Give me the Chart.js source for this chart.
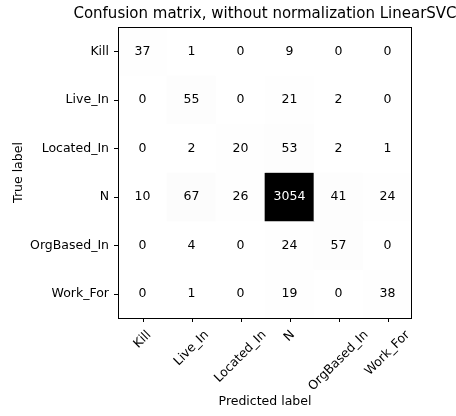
<!doctype html>
<html lang="en">
<head>
<meta charset="utf-8">
<title>Confusion matrix, without normalization LinearSVC</title>
<script src="https://cdn.jsdelivr.net/npm/chart.js@4.4.1/dist/chart.umd.min.js"></script>
<style>
    html, body { margin: 0; padding: 0; background: #fff; }
</style>
</head>
<body>
<canvas id="cm" width="456" height="416"></canvas>
<script>
    // class names (rows = true label, columns = predicted label)
    const classNames = ['Kill', 'Live_In', 'Located_In', 'N', 'OrgBased_In', 'Work_For'];

    // counts per true label
    const killRow       = [37, 1, 0, 9, 0, 0];
    const liveInRow     = [0, 55, 0, 21, 2, 0];
    const locatedInRow  = [0, 2, 20, 53, 2, 1];
    const nRow          = [10, 67, 26, 3054, 41, 24];
    const orgBasedInRow = [0, 4, 0, 24, 57, 0];
    const workForRow    = [0, 1, 0, 19, 0, 38];

    const matrix = [killRow, liveInRow, locatedInRow, nRow, orgBasedInRow, workForRow];
    const maxCount = Math.max(...matrix.flat());

    const FONT = '"DejaVu Sans", sans-serif';
    const LABEL_SIZE = 12.5;

    // matplotlib "Greys" colormap
    const greyStops = [255, 240, 217, 189, 150, 115, 82, 37, 0];
    function greys(t) {
        const p = Math.min(Math.max(t, 0), 1) * (greyStops.length - 1);
        const i = Math.min(Math.floor(p), greyStops.length - 2);
        const g = Math.round(greyStops[i] + (greyStops[i + 1] - greyStops[i]) * (p - i));
        return `rgb(${g}, ${g}, ${g})`;
    }

    // each true-label row is one dataset of floating bars spanning [r-0.5, r+0.5]
    const datasets = matrix.map((row, r) => ({
        label: classNames[r],
        data: row.map(() => [r - 0.5, r + 0.5]),
        backgroundColor: row.map(v => greys(v / maxCount)),
        borderWidth: 0,
        barPercentage: 1,
        categoryPercentage: 1,
        grouped: false,
    }));

    const matrixPlugin = {
        id: 'matrixPlugin',
        afterDatasetsDraw(chart) {
            const ctx = chart.ctx;
            ctx.save();
            ctx.font = LABEL_SIZE + 'px ' + FONT;
            ctx.textAlign = 'center';
            ctx.textBaseline = 'middle';
            matrix.forEach((row, r) => {
                chart.getDatasetMeta(r).data.forEach((bar, c) => {
                    const v = row[c];
                    ctx.fillStyle = v > maxCount / 2 ? '#fff' : '#000';
                    ctx.fillText(String(v), bar.x, (bar.y + bar.base) / 2);
                });
            });
            ctx.restore();
        },
        afterDraw(chart) {
            const ctx = chart.ctx;
            const area = chart.chartArea;
            const xScale = chart.scales.x;
            const yScale = chart.scales.y;
            ctx.save();

            // axes frame
            const L = Math.round(area.left), T = Math.round(area.top);
            const R = Math.round(area.right), B = Math.round(area.bottom);
            ctx.strokeStyle = '#000';
            ctx.lineWidth = 1;
            ctx.strokeRect(L + 0.5, T + 0.5, R - L - 1, B - T);

            // tick marks (outward, on left and bottom)
            ctx.beginPath();
            classNames.forEach((_, i) => {
                const x = Math.round(xScale.getPixelForValue(i)) + 0.5;
                ctx.moveTo(x, B);
                ctx.lineTo(x, B + 4);
                const y = Math.round(yScale.getPixelForValue(i)) + 0.5;
                ctx.moveTo(L + 0.5, y);
                ctx.lineTo(L - 4, y);
            });
            ctx.stroke();

            // title
            ctx.fillStyle = '#000';
            ctx.font = '15px ' + FONT;
            ctx.textAlign = 'center';
            ctx.textBaseline = 'alphabetic';
            ctx.fillText('Confusion matrix, without normalization LinearSVC', (area.left + area.right) / 2, 18);

            // x tick labels, rotated 45deg and centred on the tick (matplotlib style)
            ctx.font = LABEL_SIZE + 'px ' + FONT;
            ctx.textBaseline = 'middle';
            const top = area.bottom + 10;
            const h = 14;
            classNames.forEach((name, i) => {
                const w = ctx.measureText(name).width;
                const cx = xScale.getPixelForValue(i);
                const cy = top + (w + h) * Math.SQRT1_2 / 2;
                ctx.save();
                ctx.translate(cx, cy);
                ctx.rotate(-Math.PI / 4);
                ctx.fillText(name, 0, 0);
                ctx.restore();
            });
            ctx.restore();
        }
    };

    new Chart(document.getElementById('cm'), {
        type: 'bar',
        data: { labels: classNames, datasets },
        options: {
            responsive: false,
            devicePixelRatio: 1,
            animation: false,
            layout: { padding: { top: 27, right: 44, bottom: 0, left: 0 } },
            plugins: {
                legend: { display: false },
                tooltip: { enabled: false },
            },
            scales: {
                x: {
                    type: 'category',
                    offset: true,
                    grid: { display: false },
                    border: { display: false },
                    ticks: { display: false },
                    title: {
                        display: true, text: 'Predicted label', color: '#000',
                        font: { family: FONT, size: LABEL_SIZE }, padding: { top: 0, bottom: 7 }
                    },
                    afterFit(scale) { scale.height = 98; },
                },
                y: {
                    type: 'linear',
                    reverse: true,
                    min: -0.5,
                    max: 5.5,
                    afterBuildTicks(scale) {
                        scale.ticks = classNames.map((_, i) => ({ value: i }));
                    },
                    grid: { drawOnChartArea: false, drawTicks: true, tickLength: 4, color: 'rgba(0,0,0,0)' },
                    border: { display: false },
                    ticks: {
                        color: '#000',
                        font: { family: FONT, size: LABEL_SIZE },
                        padding: 5,
                        callback: (v) => classNames[v],
                    },
                    title: {
                        display: true, text: 'True label', color: '#000',
                        font: { family: FONT, size: LABEL_SIZE }, padding: { top: 11, bottom: 0 }
                    },
                    afterFit(scale) { scale.width = 118; },
                },
            },
        },
        plugins: [matrixPlugin],
    });
</script>
</body>
</html>
